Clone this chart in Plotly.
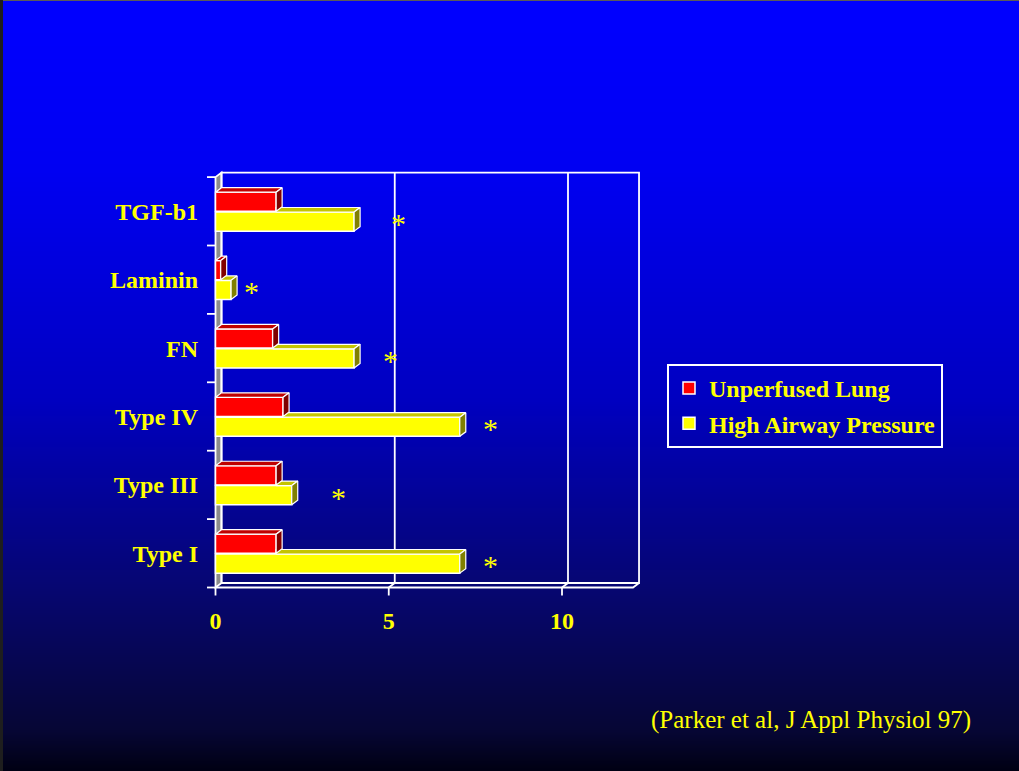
import plotly.graph_objects as go

# ---- data -------------------------------------------------------------
categories = ["Type I", "Type III", "Type IV", "FN", "Laminin", "TGF-b1"]
unperfused = [1.75, 1.75, 1.95, 1.65, 0.15, 1.75]
high_airway = [7.05, 2.2, 7.05, 4.0, 0.45, 4.0]
series_names = ["Unperfused Lung", "High Airway Pressure"]
x_ticks = [0, 5, 10]
x_tick_text = ["0", "5", "10"]
star_x = [7.95, 3.54, 7.95, 5.04, 1.05, 5.27]   # where the significance marks sit
citation = "(Parker et al, J Appl Physiol 97)"

# ---- geometry ----------------------------------------------------------
W, H = 1019, 771
X0_PX, XSCALE = 215.5, 34.65     # pixel of value 0, pixels per unit
Y0_PX, YSCALE = 553.3, 68.4      # pixel of first category, pixels per category
DX = 6 / XSCALE                  # pseudo-3D depth, in value units
DY = 4.5 / YSCALE                # pseudo-3D depth, in category units
X_END = 12.05                    # right end of the front floor line
Y_LO, Y_HI = -0.5, 5.5
BAR_H = 0.28
RED_OFF, YEL_OFF = 0.0, -0.29

RED, RED_TOP, RED_SIDE = "#FF0000", "#C00000", "#800000"
YEL, YEL_TOP, YEL_SIDE = "#FFFF00", "#C4C400", "#808000"
TEXT = "#FFFF00"
SERIF = "Liberation Serif"

dom_x_px = (199, 660)
dom_y_px = (604, 165)            # bottom, top
x_range = [(dom_x_px[0] - X0_PX) / XSCALE, (dom_x_px[1] - X0_PX) / XSCALE]
y_range = [(Y0_PX - dom_y_px[0]) / YSCALE, (Y0_PX - dom_y_px[1]) / YSCALE]

pos = list(range(len(categories)))

fig = go.Figure()

# background gradient on its own full-page axes
grad_stops = [(0, "rgb(0,0,255)"), (170, "rgb(0,0,242)"), (400, "rgb(0,0,192)"),
              (585, "rgb(6,6,114)"), (731, "rgb(6,6,52)"), (771, "rgb(0,0,18)")]
fig.add_trace(go.Heatmap(
    x=[0, 1], y=[0, H], z=[[0, 0], [1, 1]], zmin=0, zmax=1, zsmooth="best",
    colorscale=[[p / H, c] for p, c in grad_stops], showscale=False,
    hoverinfo="skip", xaxis="x", yaxis="y"))

# front faces of the bars
fig.add_trace(go.Bar(
    y=pos, x=unperfused, orientation="h", width=BAR_H, offset=RED_OFF,
    marker=dict(color=RED, line=dict(color="white", width=1.5)),
    name=series_names[0], legendgroup="a", xaxis="x2", yaxis="y2"))
fig.add_trace(go.Bar(
    y=pos, x=high_airway, orientation="h", width=BAR_H, offset=YEL_OFF,
    marker=dict(color=YEL, line=dict(color="white", width=1.5)),
    name=series_names[1], legendgroup="b", xaxis="x2", yaxis="y2"))


def poly_trace(polys, color):
    xs, ys = [], []
    for poly in polys:
        for px_, py_ in poly + [poly[0]]:
            xs.append(px_)
            ys.append(py_)
        xs.append(None)
        ys.append(None)
    return go.Scatter(x=xs, y=ys, mode="lines", fill="toself", fillcolor=color,
                      line=dict(color="white", width=1.2), hoverinfo="skip",
                      showlegend=False, xaxis="x2", yaxis="y2")


yel_top, yel_side, red_top, red_side = [], [], [], []
for i, (r, v) in enumerate(zip(unperfused, high_airway)):
    ry0 = i + RED_OFF
    ry1 = ry0 + BAR_H
    yy0 = i + YEL_OFF
    yy1 = yy0 + BAR_H
    # yellow top face: only the part not hidden behind the red bar
    left = min(r, v)
    yel_top.append([(left, yy1), (v, yy1), (v + DX, yy1 + DY), (left, yy1 + DY)])
    yel_side.append([(v, yy0), (v + DX, yy0 + DY), (v + DX, yy1 + DY), (v, yy1)])
    red_top.append([(0, ry1), (r, ry1), (r + DX, ry1 + DY), (DX, ry1 + DY)])
    red_side.append([(r, ry0), (r + DX, ry0 + DY), (r + DX, ry1 + DY), (r, ry1)])

fig.add_trace(poly_trace(yel_top, YEL_TOP))
fig.add_trace(poly_trace(yel_side, YEL_SIDE))
fig.add_trace(poly_trace(red_top, RED_TOP))
fig.add_trace(poly_trace(red_side, RED_SIDE))


def path(points, close=False):
    s = "M " + " L ".join(f"{x},{y}" for x, y in points)
    return s + (" Z" if close else "")


line_w = dict(color="white", width=1.8)
shapes = []
# left side wall
shapes.append(dict(type="path", xref="x2", yref="y2", layer="below",
                   path=path([(0, Y_LO), (0, Y_HI), (DX, Y_HI + DY), (DX, Y_LO + DY)], True),
                   fillcolor="#8C8C8C", line=line_w))
# back wall
shapes.append(dict(type="rect", xref="x2", yref="y2", layer="below",
                   x0=DX, x1=X_END + DX, y0=Y_LO + DY, y1=Y_HI + DY, line=line_w))
# floor front edge
shapes.append(dict(type="path", xref="x2", yref="y2", layer="below",
                   path=path([(0, Y_LO), (X_END, Y_LO), (X_END + DX, Y_LO + DY)]),
                   line=line_w))
# back-wall grid lines and value ticks
for t in x_ticks:
    if t > 0:
        shapes.append(dict(type="line", xref="x2", yref="y2", layer="below",
                           x0=t + DX, x1=t + DX, y0=Y_LO + DY, y1=Y_HI + DY, line=line_w))
        shapes.append(dict(type="line", xref="x2", yref="y2", layer="below",
                           x0=t, x1=t + DX, y0=Y_LO, y1=Y_LO + DY, line=line_w))
    shapes.append(dict(type="line", xref="x2", yref="y2", layer="below",
                       x0=t, x1=t, y0=Y_LO, y1=Y_LO - 8 / YSCALE, line=line_w))
# category boundary ticks
for k in range(len(categories) + 1):
    b = Y_LO + k
    shapes.append(dict(type="line", xref="x2", yref="y2", layer="below",
                       x0=-8.5 / XSCALE, x1=0, y0=b, y1=b, line=line_w))
# thin page edges
shapes.append(dict(type="line", xref="paper", yref="paper", layer="above",
                   x0=0, x1=1, y0=1, y1=1, line=dict(color="#5a5a5a", width=2)))
shapes.append(dict(type="line", xref="paper", yref="paper", layer="above",
                   x0=0, x1=0, y0=0, y1=1, line=dict(color="#1e1e1e", width=6)))

annotations = []
for i, sx in enumerate(star_x):
    annotations.append(dict(x=sx, y=i + YEL_OFF + BAR_H / 2, xref="x2", yref="y2",
                            text="*", showarrow=False, yshift=-2,
                            font=dict(family=SERIF, size=30, color=TEXT)))
annotations.append(dict(x=973 / W, y=1 - 720 / H, xref="paper", yref="paper",
                        xanchor="right", yanchor="middle", text=citation, showarrow=False,
                        font=dict(family=SERIF, size=25, color=TEXT)))

fig.update_layout(
    width=W, height=H, margin=dict(l=0, r=0, t=0, b=0),
    paper_bgcolor="#000000", plot_bgcolor="rgba(0,0,0,0)",
    barmode="overlay", shapes=shapes, annotations=annotations,
    xaxis=dict(domain=[0, 1], range=[0, 1], visible=False, fixedrange=True),
    yaxis=dict(domain=[0, 1], range=[H, 0], visible=False, fixedrange=True),
    xaxis2=dict(domain=[dom_x_px[0] / W, dom_x_px[1] / W], range=x_range, anchor="y2",
                showgrid=False, zeroline=False, showline=False, ticks="",
                tickvals=x_ticks, ticktext=x_tick_text,
                tickfont=dict(family=SERIF, size=24, color=TEXT, weight="bold")),
    yaxis2=dict(domain=[1 - dom_y_px[0] / H, 1 - dom_y_px[1] / H], range=y_range, anchor="x2",
                showgrid=False, zeroline=False, showline=False, ticks="",
                tickvals=pos, ticktext=categories,
                tickfont=dict(family=SERIF, size=24, color=TEXT, weight="bold")),
    legend=dict(x=667 / W, y=1 - 364 / H, xanchor="left", yanchor="top",
                bgcolor="rgba(0,0,0,0)", bordercolor="white", borderwidth=2,
                traceorder="grouped", tracegroupgap=1,
                entrywidth=245, entrywidthmode="pixels",
                font=dict(family=SERIF, size=24, color=TEXT, weight="bold")),
    showlegend=True,
)

fig.write_html("out.html")
